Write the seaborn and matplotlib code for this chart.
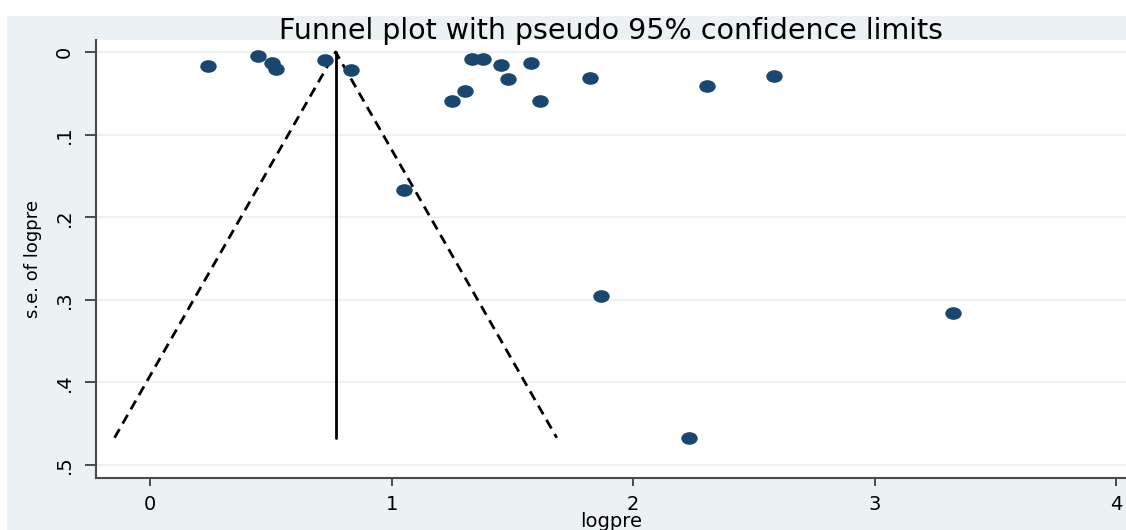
import matplotlib
matplotlib.use("Agg")
import matplotlib.pyplot as plt
from matplotlib.path import Path
from matplotlib.patches import Rectangle
from matplotlib.transforms import Affine2D
import numpy as np
import pandas as pd
import seaborn as sns

# Study estimates (log prevalence) and their standard errors
logpre = [0.240, 0.447, 0.505, 0.522, 0.725, 0.832, 1.052, 1.250, 1.304,
          1.333, 1.379, 1.453, 1.482, 1.578, 1.615, 1.822, 1.867, 2.232,
          2.306, 2.584, 3.325]
se_logpre = [0.017, 0.005, 0.013, 0.021, 0.010, 0.022, 0.167, 0.059, 0.047,
             0.008, 0.008, 0.016, 0.033, 0.013, 0.059, 0.031, 0.295, 0.467,
             0.041, 0.029, 0.316]
pooled = 0.768          # fixed-effect pooled estimate
z95 = 1.96

x_ticks = [0, 1, 2, 3, 4]
x_ticklabels = ["0", "1", "2", "3", "4"]
y_ticks = [0, 0.1, 0.2, 0.3, 0.4, 0.5]
y_ticklabels = ["0", ".1", ".2", ".3", ".4", ".5"]

df = pd.DataFrame({"logpre": logpre, "se": se_logpre})

sns.set_style("white")
plt.rcParams["font.family"] = ["DejaVu Sans"]
plt.rcParams["text.color"] = "black"
plt.rcParams["axes.labelcolor"] = "black"

BG = "#eaf2f3"
NAVY = "#1a476f"
AXC = "#4a4a4a"

W, H = 1126, 530
fig = plt.figure(figsize=(W / 100, H / 100), dpi=100, facecolor="white")
fig.add_artist(Rectangle((7 / W, 0), 1, (H - 16) / H, transform=fig.transFigure,
                         facecolor=BG, edgecolor="none", zorder=0))

ax = fig.add_axes([96 / W, (H - 478) / H, (W - 96) / W, 438 / H])
ax.set_facecolor("white")

# slightly wide elliptical marker
oval = Path.unit_circle().transformed(Affine2D().scale(1.3, 1.0))

se_max = max(se_logpre)
ax.plot([pooled - z95 * se_max, pooled, pooled + z95 * se_max],
        [se_max, 0.0, se_max], color="black", ls=(0, (3.6, 2.3)), lw=2.0, zorder=2)
ax.plot([pooled, pooled], [0.0, se_max], color="black", lw=2.0, zorder=2)

sns.scatterplot(data=df, x="logpre", y="se", ax=ax, marker=oval, s=140,
                color=NAVY, edgecolor=NAVY, linewidth=0, zorder=3, legend=False)

ax.set_xlim(-0.224, 4.04)
ax.set_ylim(0.5157, -0.0145)

ax.set_xticks(x_ticks)
ax.set_xticklabels(x_ticklabels)
ax.set_yticks(y_ticks)
ax.set_yticklabels(y_ticklabels, rotation=90, va="center")

ax.yaxis.grid(True, color=BG, lw=1.6, zorder=0)
ax.xaxis.grid(False)

for side in ("top", "right"):
    ax.spines[side].set_visible(False)
for side in ("left", "bottom"):
    ax.spines[side].set_visible(True)
    ax.spines[side].set_color(AXC)
    ax.spines[side].set_linewidth(1.5)

ax.tick_params(axis="both", which="major", direction="out", color=AXC,
               width=1.4, labelsize=14, labelcolor="black")
ax.tick_params(axis="y", length=8, pad=8, left=True)
ax.tick_params(axis="x", length=6, pad=6, bottom=True)

ax.set_xlabel("logpre", fontsize=14, labelpad=-1)
ax.set_ylabel("s.e. of logpre", fontsize=13, labelpad=9)
ax.set_title("Funnel plot with pseudo 95% confidence limits", fontsize=20.5, pad=1)

fig.savefig("out.png", dpi=100, facecolor="white")
